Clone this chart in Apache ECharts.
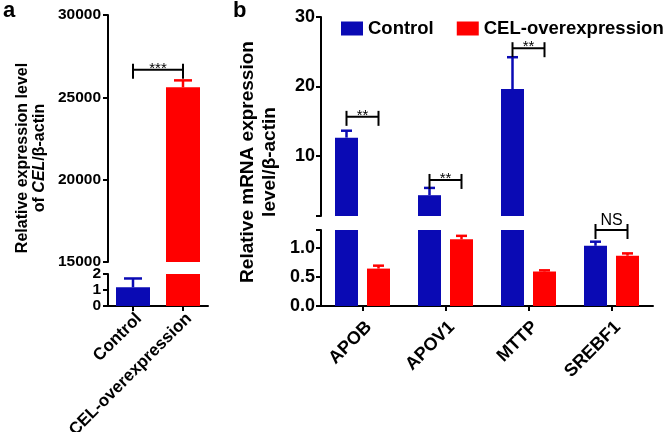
<!DOCTYPE html>
<html><head><meta charset="utf-8">
<script src="https://cdn.jsdelivr.net/npm/echarts@6/dist/echarts.min.js"></script>
<style>html,body{margin:0;padding:0;background:#fff}#c{width:672px;height:432px}</style>
</head><body><div id="c"></div>
<script>
// ---------- Panel a data ----------
const aCategories = ['Control', 'CEL-overexpression'];
const aValues = [1.17, 25610];
const aErrors = [0.55, 420];
const aUpperRange = [15000, 30000, 5000];
const aLowerRange = [0, 2, 1];
const aSig = [[0, 1, 26680, '***']];

// ---------- Panel b data ----------
const bCategories = ['APOB', 'APOV1', 'MTTP', 'SREBF1'];
const bControl = [12.6, 4.3, 19.6, 1.03];
const bControlErr = [1.0, 1.05, 4.6, 0.07];
const bCEL = [0.64, 1.14, 0.59, 0.86];
const bCELErr = [0.05, 0.06, 0.02, 0.04];
const bUpperLabels = [10, 20, 30];
const bUpperTicks = [1.3, 10, 20, 30];
const bUpperRange = [1.3, 30];
const bLowerLabels = [0, 0.5, 1.0];
const bLowerTicks = [0, 0.5, 1.0, 1.3];
const bLowerRange = [0, 1.3];
const bSig = [[0, 15.6, '**'], [1, 6.5, '**'], [2, 25.5, '**'], [3, 1.3, 'NS']];
const seriesNames = ['Control', 'CEL-overexpression'];

// ---------- styles ----------
const BLUE = '#0a0ab4', RED = '#ff0000';
const FONT = 'Liberation Sans, Arial, Helvetica, sans-serif';
const aBarW = 34, bBarW = 23, bGap = 9;
const bOff = (bBarW + bGap) / 2;

const chart = echarts.init(document.getElementById('c'), null, {renderer: 'canvas'});

function yAxisBase(gridIndex, fontSize) {
  return {
    type: 'value', gridIndex,
    axisLine: {show: true, lineStyle: {color: '#000', width: 2}},
    axisTick: {show: true, length: 5, lineStyle: {color: '#000', width: 2}},
    axisLabel: {color: '#000', fontWeight: 'bold', fontSize, fontFamily: FONT, margin: 7,
      formatter: v => String(v), showMinLabel: true, showMaxLabel: true, hideOverlap: false},
    splitLine: {show: false}
  };
}
function xAxisBase(gridIndex, cats, show, fontSize, margin) {
  return {
    type: 'category', gridIndex, data: cats,
    axisLine: {show, onZero: false, lineStyle: {color: '#000', width: 2}},
    axisTick: {show, alignWithLabel: true, length: 5, lineStyle: {color: '#000', width: 2}},
    axisLabel: {show, rotate: 45, color: '#000', fontWeight: 'bold', fontSize, fontFamily: FONT,
      margin, interval: 0, align: 'right', verticalAlign: 'top'}
  };
}

function errSeries(name, xi, yi, items, offset, color, capW) {
  return {
    type: 'custom', name, xAxisIndex: xi, yAxisIndex: yi, z: 5,
    data: items,
    renderItem: function (params, api) {
      const c = api.coord([api.value(0), api.value(1)]);
      const t = api.coord([api.value(0), api.value(1) + api.value(2)]);
      const x = c[0] + offset;
      const st = {stroke: color, lineWidth: 2.5};
      return {type: 'group', children: [
        {type: 'line', shape: {x1: x, y1: c[1], x2: x, y2: t[1]}, style: st},
        {type: 'line', shape: {x1: x - capW / 2, y1: t[1], x2: x + capW / 2, y2: t[1]}, style: st}
      ]};
    }
  };
}

function bracketSeries(name, xi, yi, items, getEnds) {
  return {
    type: 'custom', name, xAxisIndex: xi, yAxisIndex: yi, z: 6,
    data: items,
    renderItem: function (params, api) {
      const ends = getEnds(api);
      const x1 = ends[0], x2 = ends[1], y = ends[2];
      const txt = ends[3];
      const st = {stroke: '#000', lineWidth: 2};
      const isNS = txt === 'NS';
      return {type: 'group', children: [
        {type: 'line', shape: {x1, y1: y, x2, y2: y}, style: st},
        {type: 'line', shape: {x1, y1: y - 6, x2: x1, y2: y + 9}, style: st},
        {type: 'line', shape: {x1: x2, y1: y - 6, x2: x2, y2: y + 9}, style: st},
        {type: 'text', style: {
          text: txt, x: (x1 + x2) / 2, y: y - 1,
          align: 'center', verticalAlign: isNS ? 'bottom' : 'middle',
          fontSize: isNS ? 16 : 15, fontWeight: 'normal', fontFamily: FONT, fill: '#000'
        }}
      ]};
    }
  };
}

// ---- build data ----
const aUpperBars = aValues.map(v => v > aUpperRange[0] ? v : null);
const aErrUpper = [], aErrLower = [];
aValues.forEach((v, i) => {
  const item = [i, v, aErrors[i]];
  (v > aUpperRange[0] ? aErrUpper : aErrLower).push(item);
});
const bCtrlUpper = bControl.map(v => v > bUpperRange[0] ? v : null);
const bCelUpper = bCEL.map(v => v > bUpperRange[0] ? v : null);
const bCtrlErrU = [], bCtrlErrL = [], bCelErrU = [], bCelErrL = [];
bControl.forEach((v, i) => (v > bUpperRange[0] ? bCtrlErrU : bCtrlErrL).push([i, v, bControlErr[i]]));
bCEL.forEach((v, i) => (v > bUpperRange[0] ? bCelErrU : bCelErrL).push([i, v, bCELErr[i]]));
const bSigU = bSig.filter(s => s[1] > bUpperRange[0] + 0.01);
const bSigL = bSig.filter(s => s[1] <= bUpperRange[0] + 0.01);
const aColors = [BLUE, RED];

const getAEnds = api => {
  const p1 = api.coord([api.value(0), api.value(2)]);
  const p2 = api.coord([api.value(1), api.value(2)]);
  return [p1[0], p2[0], p1[1], aSig[0][3]];
};
function getBEnds(list) {
  return function (api) {
    const p = api.coord([api.value(0), api.value(1)]);
    const idx = api.value(0);
    const s = list.find(e => e[0] === idx);
    return [p[0] - bOff, p[0] + bOff, p[1], s[2]];
  };
}
const gapPct = (bGap / bBarW * 100) + '%';
const gridBase = {containLabel: false, outerBoundsMode: 'none'};

const option = {
  animation: false,
  backgroundColor: '#fff',
  legend: {
    data: seriesNames, left: 336, top: 14, itemWidth: 22, itemHeight: 14, itemGap: 23,
    icon: 'rect', textStyle: {fontWeight: 'bold', fontSize: 18.5, fontFamily: FONT, color: '#000'},
    selectedMode: false
  },
  grid: [
    Object.assign({left: 108, top: 15, width: 100, height: 247}, gridBase),
    Object.assign({left: 108, top: 274, width: 100, height: 32}, gridBase),
    Object.assign({left: 321, top: 17, width: 332, height: 199}, gridBase),
    Object.assign({left: 321, top: 230, width: 332, height: 76}, gridBase)
  ],
  xAxis: [
    xAxisBase(0, aCategories, false, 17, 4),
    xAxisBase(1, aCategories, true, 17, 4),
    xAxisBase(2, bCategories, false, 18, 12),
    xAxisBase(3, bCategories, true, 18, 12)
  ],
  yAxis: [
    Object.assign(yAxisBase(0, 15.5), {min: aUpperRange[0], max: aUpperRange[1], interval: aUpperRange[2]}),
    Object.assign(yAxisBase(1, 15.5), {min: aLowerRange[0], max: aLowerRange[1], interval: aLowerRange[2]}),
    (function () { const y = yAxisBase(2, 18); y.min = bUpperRange[0]; y.max = bUpperRange[1];
      y.axisLabel.customValues = bUpperLabels; y.axisTick.customValues = bUpperTicks; y.axisLabel.margin = 6; return y; })(),
    (function () { const y = yAxisBase(3, 18); y.min = bLowerRange[0]; y.max = bLowerRange[1];
      y.axisLabel.customValues = bLowerLabels; y.axisTick.customValues = bLowerTicks; y.axisLabel.margin = 6;
      y.axisLabel.formatter = v => Number(v).toFixed(1); return y; })()
  ],
  graphic: [
    {type: 'text', left: 3, top: 0, style: {text: 'a', fontSize: 22, fontWeight: 'bold', fontFamily: FONT, fill: '#000'}},
    {type: 'text', left: 233, top: 0, style: {text: 'b', fontSize: 22, fontWeight: 'bold', fontFamily: FONT, fill: '#000'}},
    {type: 'text', x: 31, y: 158, rotation: Math.PI / 2, style: {
      text: 'Relative expression level\nof {i|CEL}/β-actin', align: 'center', verticalAlign: 'middle',
      fontSize: 16, fontWeight: 'bold', fontFamily: FONT, fill: '#000', lineHeight: 17,
      rich: {i: {fontStyle: 'italic', fontWeight: 'bold', fontSize: 16, fontFamily: FONT, lineHeight: 17}}
    }},
    {type: 'text', x: 259, y: 162, rotation: Math.PI / 2, style: {
      text: 'Relative mRNA expression\nlevel/β-actin', align: 'center', verticalAlign: 'middle',
      fontSize: 19, fontWeight: 'bold', fontFamily: FONT, fill: '#000', lineHeight: 22
    }}
  ],
  series: [
    {type: 'bar', name: 'aUpper', xAxisIndex: 0, yAxisIndex: 0, barWidth: aBarW,
      data: aUpperBars.map((v, i) => ({value: v, itemStyle: {color: aColors[i]}}))},
    {type: 'bar', name: 'aLower', xAxisIndex: 1, yAxisIndex: 1, barWidth: aBarW,
      data: aValues.map((v, i) => ({value: v, itemStyle: {color: aColors[i]}}))},
    errSeries('aErrU', 0, 0, aErrUpper, 0, RED, 18),
    errSeries('aErrL', 1, 1, aErrLower, 0, BLUE, 18),
    bracketSeries('aSig', 0, 0, aSig.map(s => [s[0], s[1], s[2]]), getAEnds),

    {type: 'bar', name: seriesNames[0], xAxisIndex: 2, yAxisIndex: 2, barWidth: bBarW, barGap: gapPct, itemStyle: {color: BLUE}, data: bCtrlUpper},
    {type: 'bar', name: seriesNames[1], xAxisIndex: 2, yAxisIndex: 2, barWidth: bBarW, barGap: gapPct, itemStyle: {color: RED}, data: bCelUpper},
    {type: 'bar', name: seriesNames[0], xAxisIndex: 3, yAxisIndex: 3, barWidth: bBarW, barGap: gapPct, itemStyle: {color: BLUE}, data: bControl},
    {type: 'bar', name: seriesNames[1], xAxisIndex: 3, yAxisIndex: 3, barWidth: bBarW, barGap: gapPct, itemStyle: {color: RED}, data: bCEL},
    errSeries('bCtrlErrU', 2, 2, bCtrlErrU, -bOff, BLUE, 11),
    errSeries('bCtrlErrL', 3, 3, bCtrlErrL, -bOff, BLUE, 11),
    errSeries('bCelErrU', 2, 2, bCelErrU, bOff, RED, 11),
    errSeries('bCelErrL', 3, 3, bCelErrL, bOff, RED, 11),
    bracketSeries('bSigU', 2, 2, bSigU.map(s => [s[0], s[1]]), getBEnds(bSigU)),
    bracketSeries('bSigL', 3, 3, bSigL.map(s => [s[0], s[1]]), getBEnds(bSigL))
  ]
};
chart.setOption(option);
</script>
</body></html>
